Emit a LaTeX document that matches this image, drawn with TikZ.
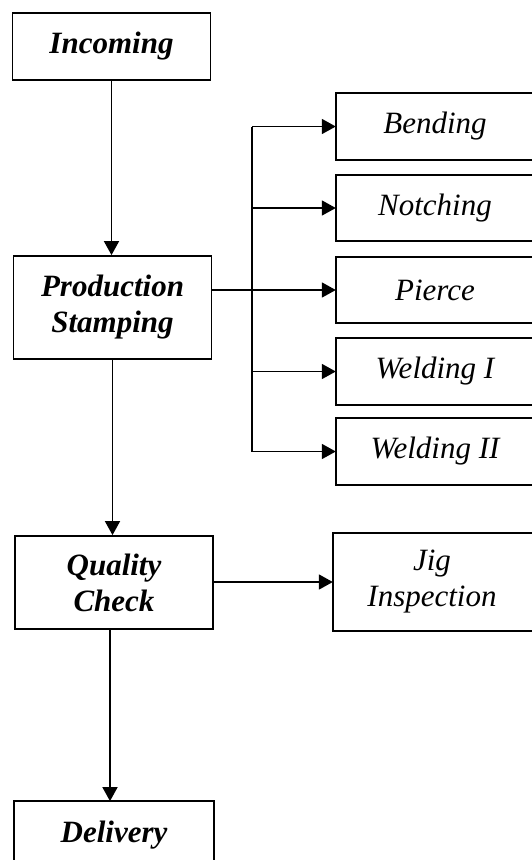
\documentclass[tikz,border=0pt]{standalone}
\usepackage{fontspec}
\setmainfont{Liberation Serif}
\usetikzlibrary{arrows.meta}
\begin{document}
\begin{tikzpicture}[x={(1pt,0pt)},y={(0pt,-1pt)},
  stage/.style={draw, line width=1.8pt, minimum width=198pt, align=center, inner sep=0pt,
    font=\fontsize{31}{36}\selectfont\bfseries\itshape},
  task/.style={minimum width=198pt, align=center, inner sep=0pt,
    font=\fontsize{31}{36}\selectfont\itshape},
  frame/.style={line width=1.8pt},
  flow/.style={line width=1.8pt, -{Triangle[length=14pt,width=15pt]}},
  busline/.style={line width=1.8pt}]
\useasboundingbox (0,0) rectangle (532,860);
\clip (0,0) rectangle (532,860);

% main process column
\node[stage, minimum height=67pt] (inc) at (111.5,46.5) {Incoming};
\node[stage, minimum height=103pt] (prod) at (112.5,307.5) {Production\\Stamping};
\node[stage, minimum height=93pt] (qc) at (114,582.5) {Quality\\Check};
\node[stage, draw=none, minimum height=66pt] (del) at (114,835) {Delivery};
\draw[frame] (del.north west) rectangle ([yshift=-20pt]del.south east);

% stamping operations
\node[task, minimum height=67pt] (bend) at (435,126.5) {Bending};
\node[task, minimum height=66pt] (notch) at (435,208) {Notching};
\node[task, minimum height=66pt] (pierce) at (435,290) {Pierce};
\node[task, minimum height=67pt] (weld1) at (435,371.5) {Welding I};
\node[task, minimum height=67pt] (weld2) at (435,451.5) {Welding II};

% inspection
\node[task, minimum height=98pt] (jig) at (432,582) {Jig\\Inspection};

% operation boxes run past the right edge
\foreach \n in {bend,notch,pierce,weld1,weld2,jig}
  \draw[frame] (\n.north west) rectangle ([xshift=20pt]\n.south east);

% main flow
\draw[flow] (inc.south) -- (inc.south |- prod.north);
\draw[flow] (prod.south) -- (prod.south |- qc.north);
\draw[flow] ([xshift=-4pt]qc.south) -- ([xshift=-4pt]qc.south |- del.north);

% distribution bus to operations
\coordinate (bus) at (252,0);
\draw[busline] (bus |- bend.west) -- (bus |- weld2.west);
\draw[flow] (bus |- bend.west) -- (bend.west);
\draw[flow] (bus |- notch.west) -- (notch.west);
\draw[flow] (prod.east |- pierce.west) -- (pierce.west);
\draw[flow] (bus |- weld1.west) -- (weld1.west);
\draw[flow] (bus |- weld2.west) -- (weld2.west);

% quality check to jig inspection
\draw[flow] (qc.east |- jig.west) -- (jig.west);
\end{tikzpicture}
\end{document}
